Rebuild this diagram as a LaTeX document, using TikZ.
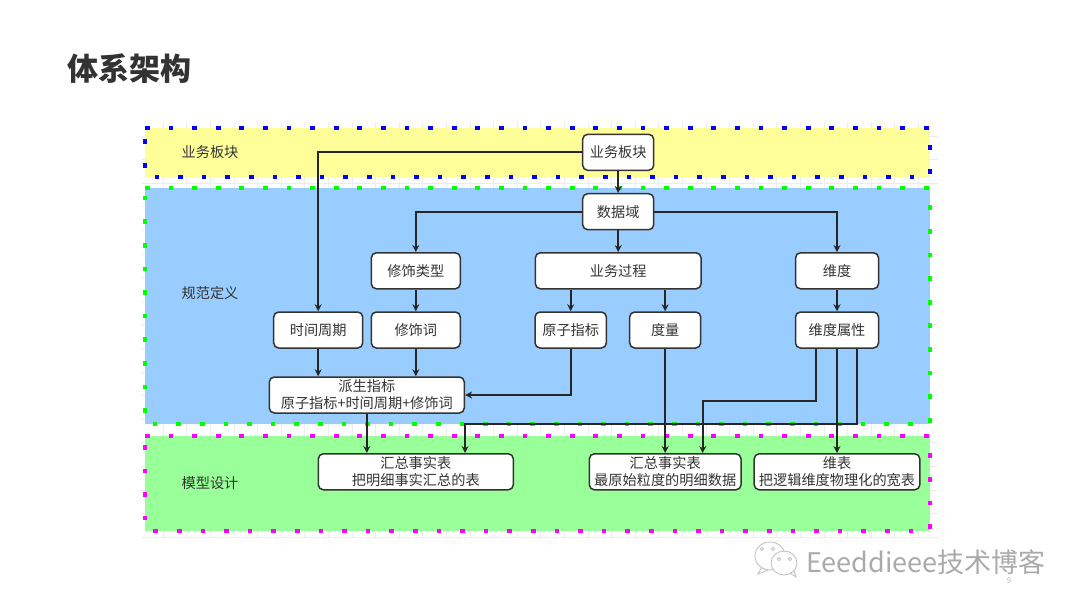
\documentclass[tikz,border=0pt]{standalone}
\usepackage{fontspec}
\setmainfont{Noto Sans CJK SC}
\usetikzlibrary{arrows.meta}
\definecolor{inkgray}{HTML}{333333}
\definecolor{wmgray}{HTML}{BDBDBD}
\definecolor{gridgray}{HTML}{EDEDED}
\definecolor{bandyellow}{HTML}{FFFF99}
\definecolor{bandblue}{HTML}{99CCFF}
\definecolor{bandgreen}{HTML}{99FF99}
\definecolor{dotblue}{HTML}{0000FF}
\definecolor{dotgreen}{HTML}{00FF00}
\definecolor{dotpink}{HTML}{FF00FF}
\begin{document}
\begin{tikzpicture}[x=1pt,y=-1pt,
  every node/.style={inner sep=0pt,text=inkgray,font=\fontsize{14.2}{17}\selectfont},
  band/.style={line width=4.7pt,dash pattern=on 4.7pt off 18.9pt},
  card/.style={draw=inkgray,fill=white,line width=1.5pt,rounded corners=5pt,align=center,minimum height=36pt},
  link/.style={draw=black!85,line width=1.8pt,-{Stealth[length=7pt,width=7pt]}}]
\useasboundingbox (0,0) rectangle (1080,608);
\foreach \gx in {0,...,32}
  \draw [gridgray,line width=0.6pt] (163+23.6*\gx,122) -- (163+23.6*\gx,538);
\foreach \gy in {0,...,17}
  \draw [gridgray,line width=0.6pt] (141,537-23.6*\gy) -- (938,537-23.6*\gy);
\fill [bandyellow] (145,128) rectangle (930,177);
\draw [band,dotblue] (145,128) -- (930,128) -- (930,177) -- (145,177) -- cycle;
\fill [bandblue] (145,188) rectangle (930,424);
\draw [band,dotgreen] (145,188) -- (930,188) -- (930,424) -- (145,424) -- cycle;
\fill [bandgreen] (145,436) rectangle (930,531);
\draw [band,dotpink] (145,436) -- (930,436) -- (930,531) -- (145,531) -- cycle;
\node (title) [anchor=west,font=\fontsize{31}{31}\selectfont\bfseries] at (67,69) {体系架构};
\node (labelyewu) at (210,152) {业务板块};
\node (labelguifan) at (210,293) {规范定义};
\node (labelmoxing) at (210,483) {模型设计};
\node (bankuai) [card,minimum width=71pt] at (618.2,152.3) {业务板块};
\node (shujuyu) [card,minimum width=71pt] at (618.2,211.7) {数据域};
\node (xiushileixing) [card,minimum width=89pt] at (415.8,270.8) {修饰类型};
\node (guocheng) [card,minimum width=165.7pt] at (618.2,270.8) {业务过程};
\node (weidu) [card,minimum width=83pt] at (837,270.8) {维度};
\node (shijian) [card,minimum width=89pt] at (318.2,330) {时间周期};
\node (xiushici) [card,minimum width=89pt] at (415.8,330) {修饰词};
\node (yuanzi) [card,minimum width=71.3pt] at (570.7,330) {原子指标};
\node (duliang) [card,minimum width=71pt] at (665.2,330) {度量};
\node (shuxing) [card,minimum width=83pt] at (837,330) {维度属性};
\node (paisheng) [card,minimum width=195pt] at (366.8,395) {派生指标\\原子指标+时间周期+修饰词};
\node (huizonga) [card,minimum width=195pt] at (415.8,471.8) {汇总事实表\\把明细事实汇总的表};
\node (huizongb) [card,minimum width=151.7pt] at (665.2,471.8) {汇总事实表\\最原始粒度的明细数据};
\node (weibiao) [card,minimum width=165.6pt] at (837,471.8) {维表\\把逻辑维度物理化的宽表};
\coordinate (turna) at (857,424.3);
\coordinate (turnb) at (816,400.7);
\coordinate (dropb) at (702.7,400.7);
\draw [link] (bankuai.west) -| (shijian.north);
\draw [link] (bankuai) -- (shujuyu);
\draw [link] (shujuyu.west) -| (xiushileixing.north);
\draw [link] (shujuyu) -- (guocheng);
\draw [link] (shujuyu.east) -| (weidu.north);
\draw [link] (xiushileixing) -- (xiushici);
\draw [link] (guocheng.south -| yuanzi) -- (yuanzi.north);
\draw [link] (guocheng.south -| duliang) -- (duliang.north);
\draw [link] (weidu) -- (shuxing);
\draw [link] (shijian) -- (paisheng.north -| shijian);
\draw [link] (xiushici) -- (paisheng.north -| xiushici);
\draw [link] (yuanzi.south) |- (paisheng.east);
\draw [link] (paisheng.south) -- (huizonga.north -| paisheng);
\draw [link] (turna |- shuxing.south) -- (turna) -| (huizonga.north -| paisheng.east);
\draw [link] (duliang.south) -- (huizongb.north -| duliang);
\draw [link] (turnb |- shuxing.south) -- (turnb) -- (dropb) -- (huizongb.north -| dropb);
\draw [link] (shuxing.south) -- (weibiao.north);
\draw [wmgray,line width=0.8pt,fill=white] (770,556) ellipse (15 and 14);
\draw [wmgray,line width=0.8pt] (762,567) -- (758,574) -- (768,570);
\draw [wmgray,line width=0.8pt,fill=white] (784,563) ellipse (13 and 12);
\draw [wmgray,line width=0.8pt] (790,573) -- (796,577) -- (794,571);
\foreach \ex/\ey in {762/549,773/549,779/559,790/559}
  \draw [wmgray,line width=0.6pt] (\ex,\ey) circle (1.6);
\node (mark) [anchor=west,text=wmgray!90!black,font=\fontsize{27}{27}\selectfont] at (806,562) {Eeeddieee技术博客};
\node (pageno) [text=wmgray,font=\fontsize{8}{8}\selectfont] at (1009,581) {9};
\end{tikzpicture}
\end{document}
